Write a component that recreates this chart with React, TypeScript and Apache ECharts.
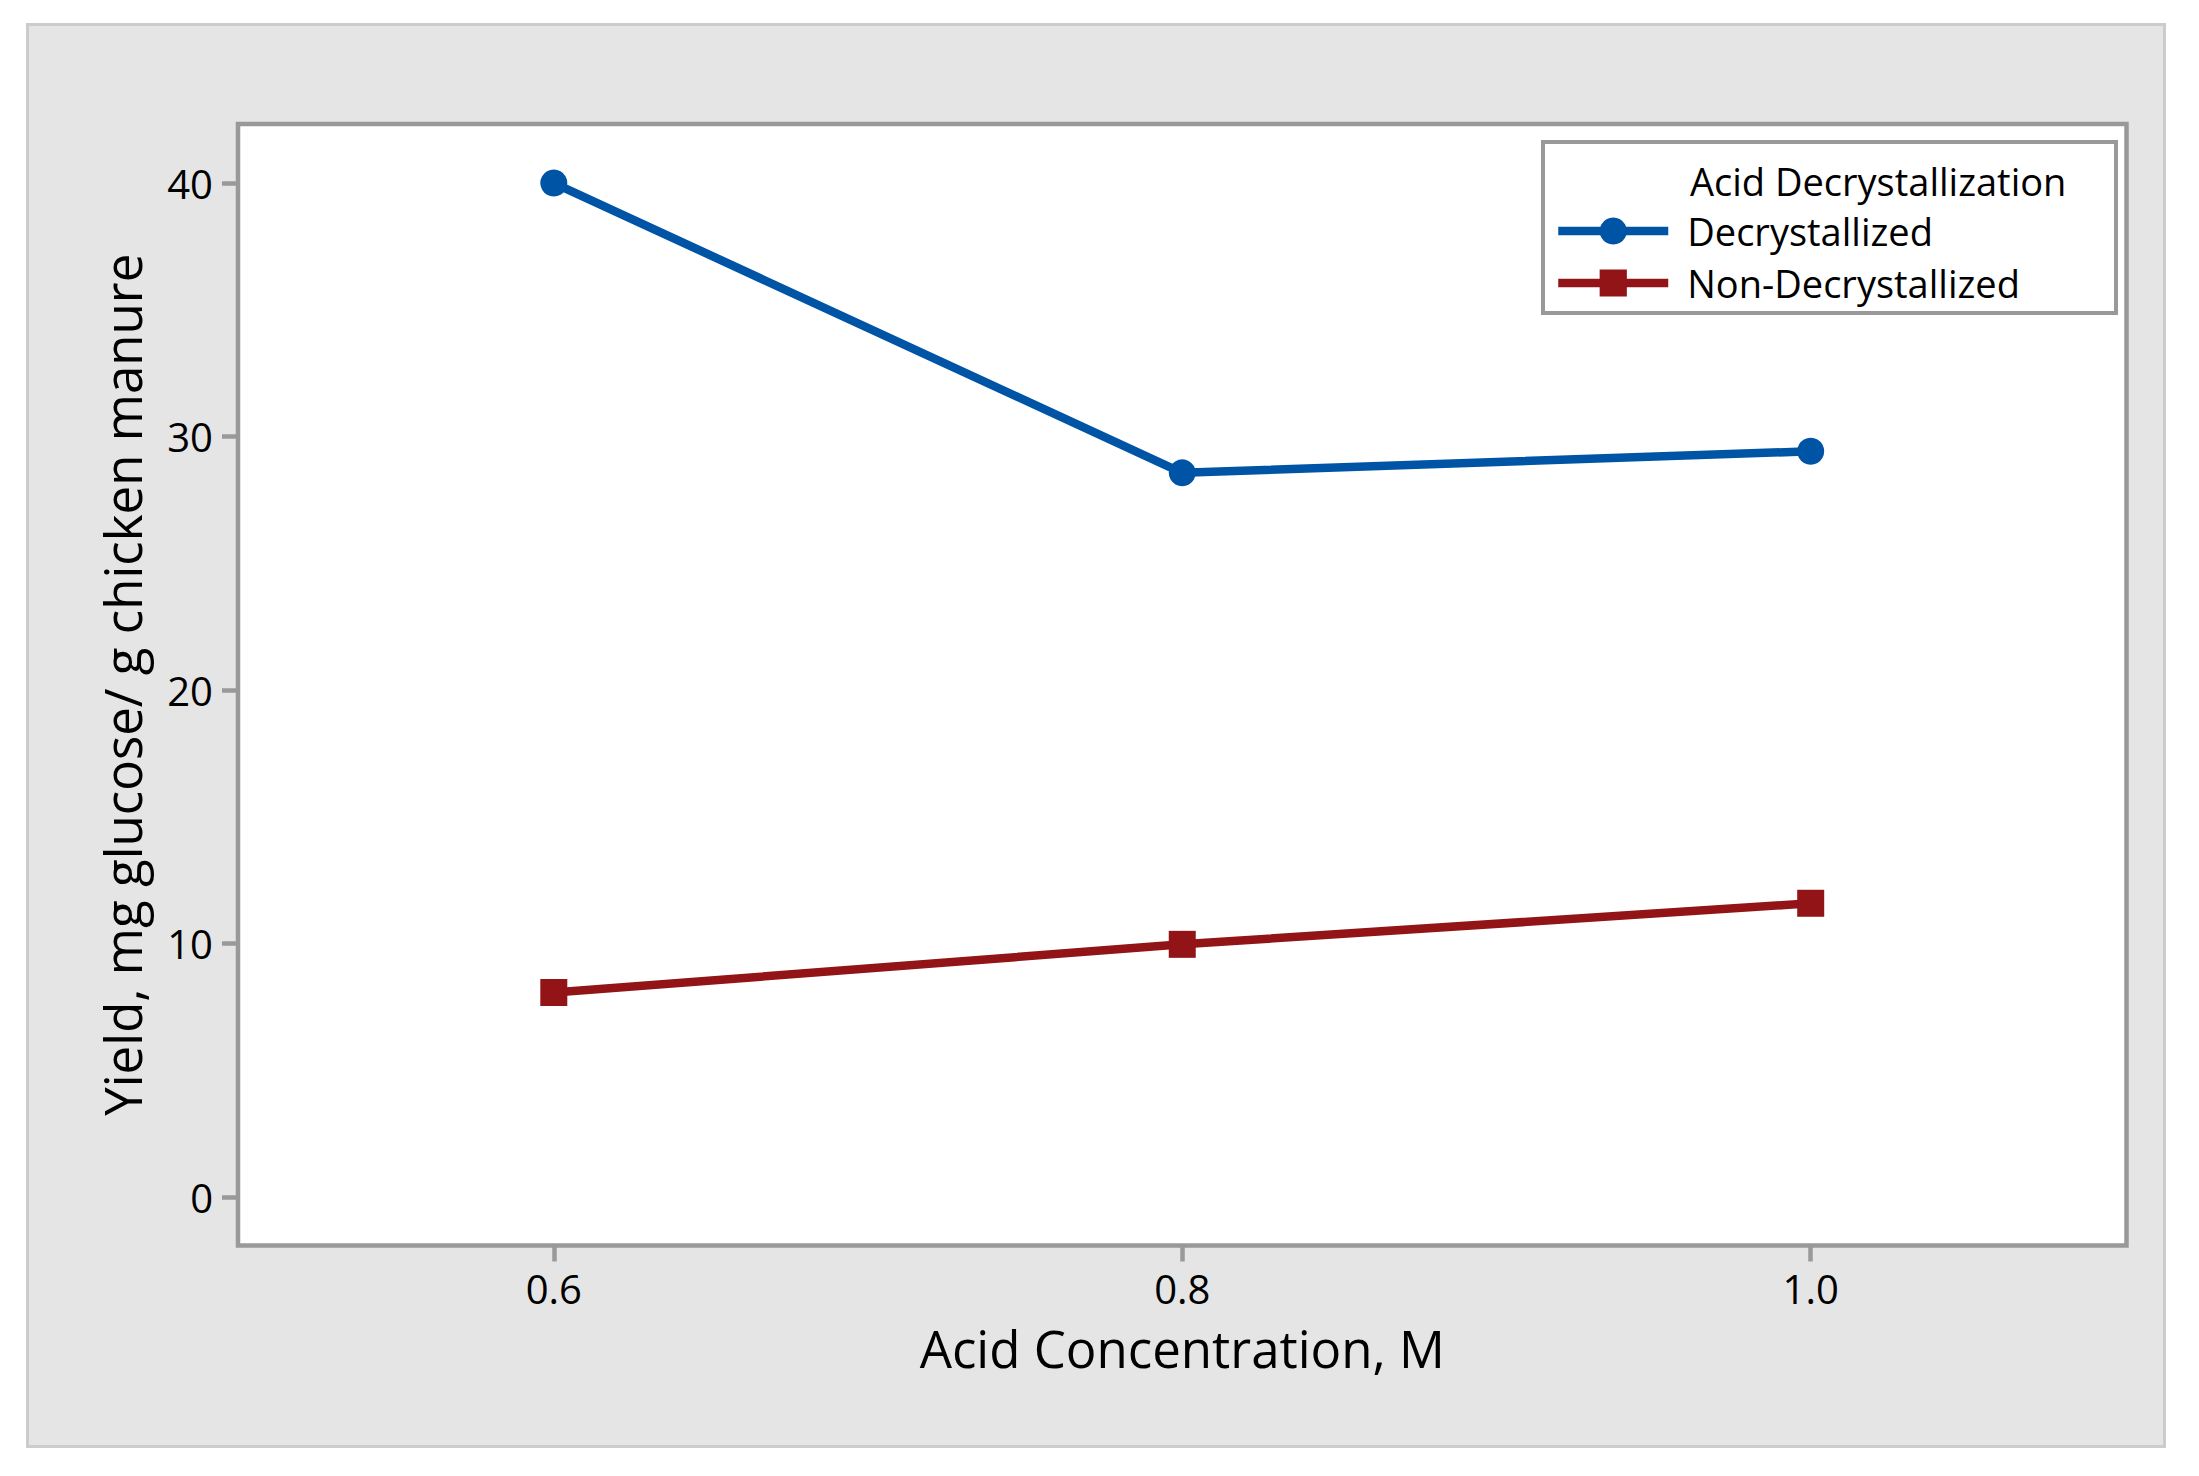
import React, { useEffect, useRef } from "react";
import * as echarts from "echarts";

const concentrations = [0.6, 0.8, 1.0];
const decrystallized = [40.0, 28.57, 29.42];
const nonDecrystallized = [8.07, 9.97, 11.59];
const xTicks = [0.6, 0.8, 1.0];
const yTicks = [0, 10, 20, 30, 40];
const seriesNames = ["Decrystallized", "Non-Decrystallized"];
const legendTitle = "Acid Decrystallization";
const xTitle = "Acid Concentration, M";
const yTitle = "Yield, mg glucose/ g chicken manure";

const FONT = "'Open Sans', 'Noto Sans', sans-serif";

export default function App() {
  const ref = useRef<HTMLDivElement>(null);
  useEffect(() => {
    if (!ref.current) return;
    const chart = echarts.init(ref.current, undefined, { renderer: "svg" });
    const pair = (ys: number[]) => concentrations.map((x, i) => [x, ys[i]]);
    chart.setOption({
      animation: false,
      backgroundColor: "transparent",
      textStyle: { fontFamily: FONT },
      grid: {
        left: 238,
        top: 124,
        right: 72.5,
        bottom: 230.5,
        show: true,
        backgroundColor: "#ffffff",
        borderColor: "#999999",
        borderWidth: 4.5,
        z: 0,
      },
      xAxis: {
        type: "value",
        min: 0.4995,
        max: 1.1005,
        splitLine: { show: false },
        axisLine: { show: false, onZero: false },
        axisTick: {
          show: true,
          customValues: xTicks,
          length: 16,
          lineStyle: { color: "#999999", width: 4.5 },
        },
        axisLabel: {
          customValues: xTicks,
          formatter: (v: number) => v.toFixed(1),
          color: "#000",
          fontSize: 40,
          margin: 23,
          fontFamily: FONT,
        },
        name: xTitle,
        nameLocation: "middle",
        nameGap: 77,
        nameTextStyle: { color: "#000", fontSize: 51, fontFamily: FONT },
      },
      yAxis: {
        type: "value",
        min: -1.91,
        max: 42.33,
        splitLine: { show: false },
        axisLine: { show: false, onZero: false },
        axisTick: {
          show: true,
          customValues: yTicks,
          length: 16,
          lineStyle: { color: "#999999", width: 4.5 },
        },
        axisLabel: {
          customValues: yTicks,
          formatter: (v: number) => String(Math.round(v)),
          color: "#000",
          fontSize: 40,
          margin: 25,
          fontFamily: FONT,
        },
        name: yTitle,
        nameLocation: "middle",
        nameGap: 91,
        nameTextStyle: { color: "#000", fontSize: 51, fontFamily: FONT },
      },
      legend: {
        data: seriesNames,
        orient: "vertical",
        left: 1554,
        top: 212,
        padding: 0,
        itemWidth: 110,
        itemHeight: 34,
        itemGap: 14,
        z: 10,
        lineStyle: { width: 8.5 },
        textStyle: {
          color: "#000",
          fontSize: 38,
          fontFamily: FONT,
          padding: [0, 0, 0, 14],
        },
      },
      graphic: [
        {
          type: "rect",
          z: 5,
          shape: { x: 1543, y: 142, width: 573, height: 171 },
          style: { fill: "#ffffff", stroke: "#999999", lineWidth: 4 },
        },
        {
          type: "text",
          z: 11,
          x: 1690,
          y: 181,
          style: {
            text: legendTitle,
            fill: "#000",
            fontSize: 38,
            fontFamily: FONT,
            verticalAlign: "middle",
            align: "left",
          },
        },
      ],
      series: [
        {
          name: seriesNames[0],
          type: "line",
          data: pair(decrystallized),
          symbol: "circle",
          symbolSize: 27,
          lineStyle: { color: "#0054A6", width: 8.5 },
          itemStyle: { color: "#0054A6" },
          z: 3,
        },
        {
          name: seriesNames[1],
          type: "line",
          data: pair(nonDecrystallized),
          symbol: "rect",
          symbolSize: 27,
          lineStyle: { color: "#921416", width: 8.5 },
          itemStyle: { color: "#921416" },
          z: 3,
        },
      ],
    });
    return () => chart.dispose();
  }, []);

  return (
    <div style={{ position: "fixed", left: 0, top: 0, width: 2199, height: 1476, background: "#ffffff" }}>
      <div
        style={{
          position: "absolute",
          left: 26,
          top: 23,
          width: 2134,
          height: 1419,
          background: "#e5e5e5",
          border: "3px solid #cccccc",
        }}
      />
      <div ref={ref} style={{ position: "absolute", left: 0, top: 0, width: 2199, height: 1476 }} />
    </div>
  );
}
